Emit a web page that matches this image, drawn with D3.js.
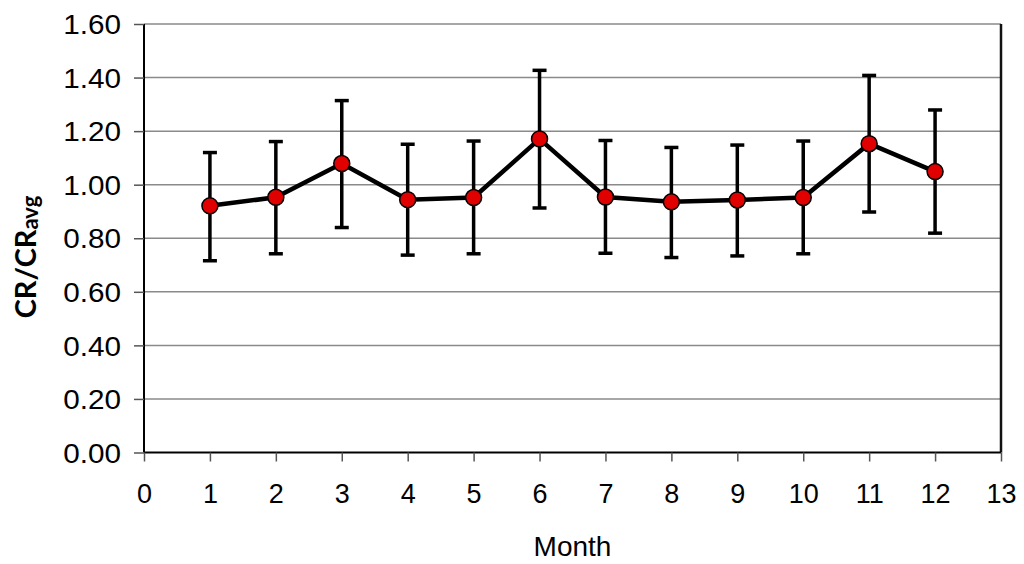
<!DOCTYPE html>
<html><head><meta charset="utf-8">
<script src="https://cdn.jsdelivr.net/npm/d3@7"></script>
<style>body{margin:0;background:#fff}svg{display:block}text{font-family:"Liberation Sans",Arial,sans-serif}</style>
</head><body><svg id="c" width="1024" height="564"></svg>
<script>
const months = [1,2,3,4,5,6,7,8,9,10,11,12];
const means  = [0.921,0.953,1.079,0.944,0.952,1.171,0.954,0.936,0.943,0.952,1.153,1.049];
const upper  = [1.120,1.161,1.314,1.151,1.163,1.427,1.165,1.139,1.148,1.163,1.408,1.279];
const lower  = [0.716,0.742,0.840,0.737,0.742,0.913,0.744,0.728,0.734,0.742,0.898,0.819];
const xTicks = [0,1,2,3,4,5,6,7,8,9,10,11,12,13];
const yTicks = [0,0.2,0.4,0.6,0.8,1.0,1.2,1.4,1.6];

const svg = d3.select("#c");
const L=144, R=1001, T=24, B=452.5;
const x = d3.scaleLinear().domain([0,13]).range([L,R]);
const y = d3.scaleLinear().domain([0,1.6]).range([B,T]);

svg.append("g").selectAll("line").data(yTicks.filter(d=>d>0)).join("line")
  .attr("x1",L).attr("x2",R).attr("y1",d=>y(d)).attr("y2",d=>y(d))
  .attr("stroke","#8a8a8a").attr("stroke-width",1.5);

svg.append("line").attr("x1",R).attr("x2",R).attr("y1",T).attr("y2",B)
  .attr("stroke","#111").attr("stroke-width",2.5);

const ya = svg.append("g").attr("transform",`translate(${L},0)`)
  .call(d3.axisLeft(y).tickValues(yTicks).tickFormat(d3.format(".2f")).tickSize(10).tickPadding(12));
ya.select(".domain").attr("stroke","#000").attr("stroke-width",2).attr("d",`M0,${T}V${B}`);
ya.selectAll(".tick line").attr("stroke","#555").attr("stroke-width",1.5);
ya.selectAll(".tick text").style("font-size","27px").attr("fill","#000").attr("dy","0.36em")
  .attr("transform","translate(-12,0) scale(1.1,1) translate(12,0)");

const xa = svg.append("g").attr("transform",`translate(0,${B})`)
  .call(d3.axisBottom(x).tickValues(xTicks).tickFormat(d3.format("d")).tickSize(9).tickPadding(22));
xa.select(".domain").attr("stroke","#000").attr("stroke-width",2).attr("d",`M${L},0H${R}`);
xa.selectAll(".tick line").attr("stroke","#555").attr("stroke-width",1.5);
xa.selectAll(".tick text").style("font-size","27px").attr("fill","#000");

svg.append("text").attr("x",(L+R)/2).attr("y",556).attr("text-anchor","middle")
  .style("font-size","28px").text("Month");
const yt = svg.append("text").attr("transform","translate(36,257) rotate(-90)")
  .attr("text-anchor","middle").style("font-weight","bold").style("font-size","29px")
  .style("font-family","Lato,'Open Sans',sans-serif");
yt.append("tspan").text("CR/CR");
yt.append("tspan").style("font-size","22px").attr("dy",2).text("avg");

const data = months.map((m,i)=>({m,v:means[i],hi:upper[i],lo:lower[i]}));

const eb = svg.append("g").attr("stroke","#000").attr("stroke-width",3.5);
eb.selectAll(".v").data(data).join("line")
  .attr("x1",d=>x(d.m)).attr("x2",d=>x(d.m)).attr("y1",d=>y(d.hi)).attr("y2",d=>y(d.lo));
eb.selectAll(".t").data(data).join("line")
  .attr("x1",d=>x(d.m)-7).attr("x2",d=>x(d.m)+7).attr("y1",d=>y(d.hi)).attr("y2",d=>y(d.hi));
eb.selectAll(".b").data(data).join("line")
  .attr("x1",d=>x(d.m)-7).attr("x2",d=>x(d.m)+7).attr("y1",d=>y(d.lo)).attr("y2",d=>y(d.lo));

svg.append("path").datum(data)
  .attr("d",d3.line().x(d=>x(d.m)).y(d=>y(d.v)))
  .attr("fill","none").attr("stroke","#000").attr("stroke-width",4.5);

svg.append("g").selectAll("circle").data(data).join("circle")
  .attr("cx",d=>x(d.m)).attr("cy",d=>y(d.v)).attr("r",8)
  .attr("fill","#e00000").attr("stroke","#000").attr("stroke-width",1.5);
</script></body></html>
